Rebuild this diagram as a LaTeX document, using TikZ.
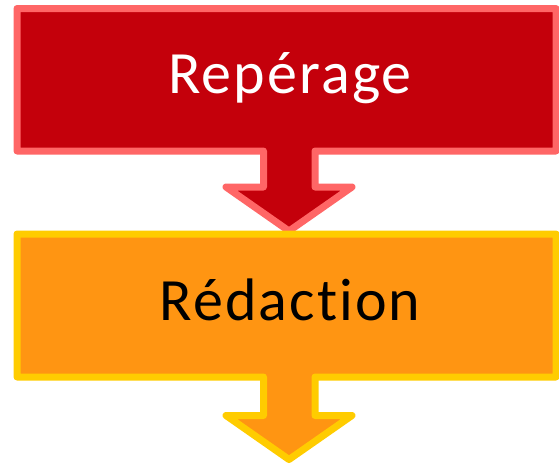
\documentclass[tikz,border=0pt]{standalone}
\usepackage{fontspec}
\setmainfont{Carlito}[RawFeature=-liga, LetterSpace=3.5]
\definecolor{stepred}{HTML}{C4000B}
\definecolor{stepredline}{HTML}{FF6666}
\definecolor{steporange}{HTML}{FF9512}
\definecolor{steporangeline}{HTML}{FFCC00}
\tikzset{
  stepshape/.style={line width=7pt, line join=round},
  steplabel/.style={font=\fontsize{60}{66}\selectfont, inner sep=0pt, anchor=base},
}
\begin{document}
\begin{tikzpicture}[x=1pt, y=-1pt]
  \useasboundingbox (0,0) rectangle (559,466);
  % first step: box with a down arrow
  \path[stepshape, fill=stepred, draw=stepredline]
    (17,8.5) -- (556,8.5) -- (556,151) -- (315,151) -- (315,187) -- (352,187)
    -- (289,231) -- (226,187) -- (263.5,187) -- (263.5,151) -- (17,151) -- cycle;
  \node[steplabel, text=white] (reperage) at (290,93) {Repérage};
  % second step: box with a down arrow
  \path[stepshape, fill=steporange, draw=steporangeline]
    (17,234) -- (556,234) -- (556,377) -- (315,377) -- (315,415.5) -- (352,415.5)
    -- (289,459.5) -- (226,415.5) -- (263.5,415.5) -- (263.5,377) -- (17,377) -- cycle;
  \node[steplabel, text=black] (redaction) at (290,320) {Rédaction};
\end{tikzpicture}
\end{document}
